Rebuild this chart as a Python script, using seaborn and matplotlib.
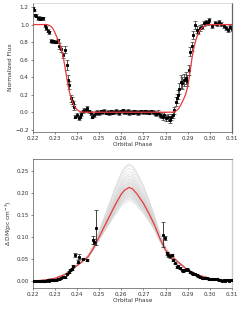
import numpy as np
import pandas as pd
import matplotlib
matplotlib.use("Agg")
import matplotlib.pyplot as plt
import seaborn as sns

# --- top panel: normalized flux (eclipse) ---
flux_phase = [0.2200, 0.2205, 0.2210, 0.2216, 0.2222, 0.2228, 0.2234, 0.2240, 0.2246, 0.2254,
              0.2261, 0.2268, 0.2274, 0.2281, 0.2287, 0.2293, 0.2299, 0.2305, 0.2312, 0.2320,
              0.2327, 0.2335, 0.2346, 0.2354, 0.2360, 0.2364, 0.2372, 0.2376, 0.2380, 0.2386,
              0.2393, 0.2400, 0.2407, 0.2412, 0.2418, 0.2425, 0.2432, 0.2440, 0.2447, 0.2455,
              0.2463, 0.2470, 0.2478, 0.2485, 0.2492,
              0.2500, 0.2508, 0.2515, 0.2522, 0.2530, 0.2538, 0.2545, 0.2553, 0.2560, 0.2568,
              0.2576, 0.2583, 0.2591, 0.2598, 0.2606, 0.2614, 0.2621, 0.2629, 0.2636, 0.2644,
              0.2651, 0.2659, 0.2667, 0.2674, 0.2682, 0.2689, 0.2697, 0.2705, 0.2712, 0.2720,
              0.2727, 0.2735, 0.2742, 0.2750, 0.2758, 0.2765, 0.2773, 0.2780, 0.2788, 0.2795,
              0.2803, 0.2810, 0.2818, 0.2825, 0.2832,
              0.2838, 0.2845, 0.2850, 0.2856, 0.2862, 0.2870, 0.2876, 0.2882, 0.2890, 0.2898,
              0.2905, 0.2912, 0.2918, 0.2926, 0.2935, 0.2941, 0.2948, 0.2956, 0.2964, 0.2972,
              0.2982, 0.2990, 0.2998, 0.3010, 0.3022, 0.3032, 0.3042, 0.3052, 0.3062, 0.3072,
              0.3082, 0.3092, 0.3098]
flux = [1.185, 1.165, 1.110, 1.100, 1.070, 1.080, 1.065, 1.070, 1.070, 0.990,
        0.960, 0.930, 0.910, 0.815, 0.810, 0.810, 0.805, 0.800, 0.820, 0.755,
        0.720, 0.650, 0.710, 0.540, 0.370, 0.310, 0.160, 0.130, 0.100, 0.060,
        -0.050, -0.030, -0.070, -0.050, -0.020, 0.010, 0.025, 0.020, 0.045, 0.010,
        -0.010, -0.050, -0.030, -0.010, 0.000,
        -0.010, 0.010, 0.000, 0.015, -0.005, 0.005, -0.010, 0.010, -0.005, 0.000,
        0.015, 0.005, -0.010, 0.010, 0.020, 0.005, 0.000, 0.015, -0.010, 0.000,
        -0.005, 0.010, 0.005, -0.010, 0.000, 0.010, 0.005, 0.010, 0.000, 0.005,
        -0.005, 0.010, 0.000, -0.010, -0.020, -0.005, -0.030, -0.040, -0.055, -0.030,
        -0.070, -0.060, -0.090, -0.050, -0.030,
        0.025, 0.120, 0.160, 0.200, 0.270, 0.350, 0.330, 0.370, 0.390, 0.360,
        0.480, 0.690, 0.750, 0.880, 0.995, 0.940, 0.920, 0.960, 0.975, 1.015,
        1.030, 1.015, 1.050, 0.985, 1.015, 1.005, 1.030, 1.005, 0.985, 0.960,
        0.940, 0.970, 0.950]
flux_err = [0.020, 0.015, 0.015, 0.015, 0.015, 0.015, 0.015, 0.015, 0.015, 0.015,
            0.020, 0.020, 0.020, 0.015, 0.015, 0.015, 0.015, 0.015, 0.020, 0.030,
            0.030, 0.030, 0.040, 0.060, 0.050, 0.050, 0.040, 0.040, 0.030, 0.030,
            0.020, 0.020, 0.020, 0.020, 0.020, 0.020, 0.020, 0.020, 0.025, 0.020,
            0.020, 0.020, 0.020, 0.020, 0.020,
            0.020, 0.020, 0.020, 0.020, 0.020, 0.020, 0.020, 0.020, 0.020, 0.020,
            0.020, 0.020, 0.020, 0.020, 0.020, 0.020, 0.020, 0.020, 0.020, 0.020,
            0.020, 0.020, 0.020, 0.020, 0.020, 0.020, 0.020, 0.020, 0.020, 0.020,
            0.020, 0.020, 0.020, 0.020, 0.025, 0.025, 0.030, 0.030, 0.030, 0.030,
            0.035, 0.035, 0.035, 0.035, 0.035,
            0.040, 0.050, 0.050, 0.050, 0.060, 0.070, 0.070, 0.070, 0.070, 0.060,
            0.060, 0.050, 0.050, 0.050, 0.050, 0.040, 0.030, 0.030, 0.030, 0.030,
            0.025, 0.020, 0.020, 0.020, 0.020, 0.020, 0.020, 0.020, 0.020, 0.020,
            0.020, 0.020, 0.020]

model_phase = [0.2200, 0.2260, 0.2270, 0.2280, 0.2290, 0.2300, 0.2310, 0.2320, 0.2330, 0.2340,
               0.2350, 0.2360, 0.2370, 0.2380, 0.2390, 0.2400, 0.2410, 0.2420, 0.2430,
               0.2830, 0.2840, 0.2850, 0.2860, 0.2870, 0.2880, 0.2890, 0.2900, 0.2910, 0.2920,
               0.2930, 0.2940, 0.2950, 0.2960, 0.2970, 0.2980, 0.2990, 0.3000, 0.3100]
model_flux = [1.000, 1.000, 0.995, 0.985, 0.960, 0.910, 0.850, 0.790, 0.720, 0.600,
              0.450, 0.300, 0.190, 0.110, 0.060, 0.030, 0.012, 0.004, 0.000,
              0.000, 0.005, 0.020, 0.045, 0.090, 0.140, 0.200, 0.290, 0.450, 0.630,
              0.760, 0.850, 0.910, 0.950, 0.975, 0.990, 0.997, 1.000, 1.000]

# --- bottom panel: delta DM ---
dm_phase = [0.2200, 0.2208, 0.2215, 0.2222, 0.2230, 0.2238, 0.2245, 0.2253, 0.2260, 0.2268,
            0.2275, 0.2283, 0.2290, 0.2298, 0.2305, 0.2313, 0.2320, 0.2328, 0.2338, 0.2345,
            0.2354, 0.2362, 0.2370, 0.2376, 0.2383, 0.2391, 0.2406, 0.2411, 0.2429, 0.2447,
            0.2472, 0.2476, 0.2486,
            0.2790, 0.2798, 0.2805, 0.2813, 0.2820, 0.2828, 0.2835, 0.2843, 0.2850, 0.2858,
            0.2865, 0.2873, 0.2880, 0.2888, 0.2896, 0.2903, 0.2910, 0.2918, 0.2926, 0.2933,
            0.2941, 0.2948, 0.2956, 0.2963, 0.2970, 0.2978, 0.2986, 0.2994, 0.3001, 0.3009,
            0.3017, 0.3024, 0.3032, 0.3040, 0.3047, 0.3054, 0.3062, 0.3070, 0.3077, 0.3085,
            0.3092, 0.3100]
dm = [0.000, 0.001, 0.000, 0.001, 0.000, 0.001, 0.001, 0.000, 0.001, 0.002,
      0.001, 0.002, 0.002, 0.003, 0.003, 0.004, 0.005, 0.008, 0.010, 0.009,
      0.017, 0.020, 0.025, 0.028, 0.034, 0.059, 0.044, 0.055, 0.051, 0.048,
      0.093, 0.089, 0.121,
      0.105, 0.098, 0.063, 0.058, 0.056, 0.059, 0.048, 0.040, 0.032, 0.034,
      0.030, 0.026, 0.023, 0.025, 0.027, 0.024, 0.021, 0.018, 0.016, 0.015,
      0.013, 0.011, 0.010, 0.008, 0.007, 0.006, 0.006, 0.005, 0.005, 0.0045,
      0.004, 0.005, 0.004, 0.003, 0.002, 0.001, 0.002, 0.001, 0.002, 0.001,
      0.002, 0.002]
dm_err = [0.002, 0.002, 0.002, 0.002, 0.002, 0.002, 0.002, 0.002, 0.002, 0.002,
          0.002, 0.002, 0.002, 0.002, 0.002, 0.002, 0.002, 0.002, 0.002, 0.002,
          0.002, 0.002, 0.002, 0.002, 0.002, 0.004, 0.003, 0.006, 0.002, 0.002,
          0.008, 0.006, 0.040,
          0.028, 0.004, 0.003, 0.003, 0.003, 0.003, 0.002, 0.002, 0.002, 0.002,
          0.002, 0.002, 0.002, 0.002, 0.002, 0.002, 0.002, 0.002, 0.002, 0.002,
          0.002, 0.002, 0.002, 0.002, 0.002, 0.002, 0.002, 0.002, 0.002, 0.002,
          0.002, 0.002, 0.002, 0.002, 0.002, 0.002, 0.002, 0.002, 0.002, 0.002,
          0.002, 0.002]

dm_model_phase = [0.2200, 0.2250, 0.2300, 0.2350, 0.2400, 0.2450, 0.2475, 0.2500, 0.2525, 0.2550,
                  0.2575, 0.2600, 0.2615, 0.2635, 0.2650, 0.2670, 0.2700, 0.2725, 0.2750, 0.2775,
                  0.2800, 0.2825, 0.2850, 0.2900, 0.2950, 0.3000, 0.3050, 0.3100]
dm_model = [0.000, 0.002, 0.006, 0.016, 0.035, 0.055, 0.075, 0.100, 0.125, 0.150,
            0.175, 0.197, 0.206, 0.212, 0.209, 0.198, 0.176, 0.153, 0.127, 0.096,
            0.070, 0.057, 0.046, 0.025, 0.013, 0.006, 0.002, 0.000]
# how strongly the posterior draws fan out from the median curve
dm_spread = [0.00, 0.00, 0.03, 0.08, 0.16, 0.28, 0.40, 0.55, 0.70, 0.82,
             0.92, 0.98, 1.00, 1.00, 1.00, 0.98, 0.92, 0.80, 0.66, 0.50,
             0.35, 0.22, 0.12, 0.04, 0.01, 0.00, 0.00, 0.00]
draw_peaks = [0.182, 0.186, 0.189, 0.191, 0.193, 0.195, 0.197, 0.199, 0.200, 0.202,
              0.204, 0.205, 0.207, 0.209, 0.211, 0.213, 0.215, 0.217, 0.219, 0.221,
              0.223, 0.225, 0.228, 0.231, 0.234, 0.238, 0.242, 0.248, 0.255, 0.262, 0.265]

# build long table of gray draws
rows = []
peak = max(dm_model)
for k, amp in enumerate(draw_peaks):
    for p, m, w in zip(dm_model_phase, dm_model, dm_spread):
        rows.append((k, p, m * (1 + (amp / peak - 1) * w)))
draws = pd.DataFrame(rows, columns=['draw', 'phase', 'dm'])

plt.rcParams['font.family'] = ['DejaVu Sans']
fig = plt.figure(figsize=(2.45, 3.09), dpi=100)
ax1 = fig.add_axes([0.1335, 0.573, 0.8135, 0.417])
ax2 = fig.add_axes([0.1335, 0.069, 0.8135, 0.4165])

# top
ax1.errorbar(flux_phase, flux, yerr=flux_err, fmt='s', ms=1.2, color='black',
             ecolor='#3a3a3a', elinewidth=0.6, capsize=1.1, capthick=0.5, zorder=2)
sns.lineplot(x=model_phase, y=model_flux, ax=ax1, color='#e8383d', lw=0.9, zorder=3)
ax1.set_xlim(0.22, 0.31)
ax1.set_ylim(-0.225, 1.245)
ax1.set_yticks([-0.2, 0.0, 0.2, 0.4, 0.6, 0.8, 1.0, 1.2])
ax1.set_xlabel('Orbital Phase', fontsize=4.2, labelpad=1.0, color='#333333')
ax1.set_ylabel('Normalized Flux', fontsize=4.2, labelpad=1.5, color='#333333')

# bottom
sns.lineplot(data=draws, x='phase', y='dm', units='draw', estimator=None, ax=ax2,
             color='#d4d4d4', lw=0.5, alpha=0.8, zorder=1)
sns.lineplot(x=dm_model_phase, y=dm_model, ax=ax2, color='#e8383d', lw=0.9, zorder=3)
ax2.errorbar(dm_phase, dm, yerr=dm_err, fmt='s', ms=1.2, color='black',
             ecolor='#222222', elinewidth=0.6, capsize=1.1, capthick=0.5, zorder=4)
ax2.set_xlim(0.22, 0.31)
ax2.set_ylim(-0.015, 0.2765)
ax2.set_yticks([0.0, 0.05, 0.10, 0.15, 0.20, 0.25])
ax2.set_yticklabels(['0.00', '0.05', '0.10', '0.15', '0.20', '0.25'])
ax2.set_xlabel('Orbital Phase', fontsize=4.2, labelpad=1.0, color='#333333')
ax2.set_ylabel(r'$\Delta$ DM(pc cm$^{-3}$)', fontsize=4.2, labelpad=1.5, color='#333333')

for ax in (ax1, ax2):
    ax.set_xticks([0.22, 0.23, 0.24, 0.25, 0.26, 0.27, 0.28, 0.29, 0.30, 0.31])
    ax.tick_params(labelsize=4.1, length=1.6, width=0.4, pad=1.2, colors='#333333')
    for s in ax.spines.values():
        s.set_linewidth(0.5)
        s.set_color('#555555')
ax1.spines['top'].set_color('#cccccc')
ax1.spines['right'].set_color('#666666')
ax1.spines['right'].set_linewidth(0.9)
ax2.spines['top'].set_color('#555555')
ax2.spines['right'].set_color('#cccccc')
ax2.spines['right'].set_linewidth(1.0)

fig.savefig('out.png', dpi=100)
